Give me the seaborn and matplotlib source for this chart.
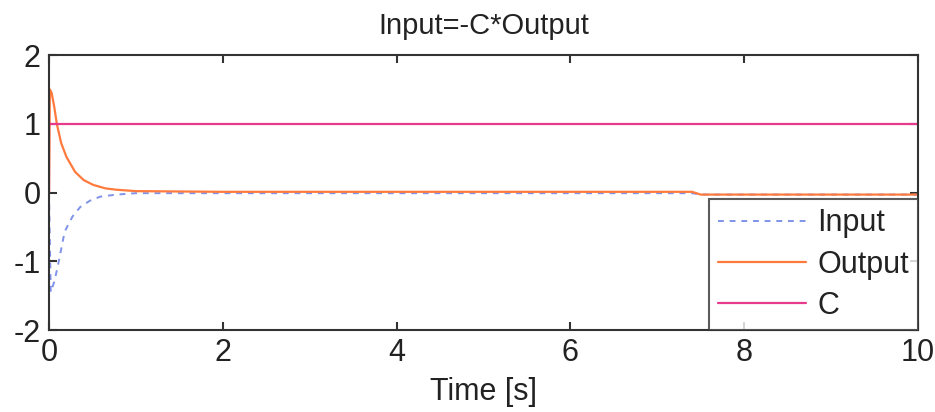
import matplotlib
matplotlib.use("Agg")
import matplotlib.pyplot as plt
import seaborn as sns

# --- data ---
t_input = [0.0, 0.02, 0.06, 0.10, 0.18, 0.27, 0.36, 0.47, 0.59, 0.78, 1.0, 2.0, 4.0, 6.0, 7.4, 7.5, 10.0]
y_input = [0.0, -1.45, -1.30, -1.08, -0.57, -0.35, -0.21, -0.12, -0.06, -0.03, -0.01, -0.01, -0.01, -0.01, -0.01, -0.03, -0.03]

t_output = [0.0, 0.01, 0.03, 0.06, 0.09, 0.14, 0.20, 0.30, 0.40, 0.51, 0.65, 0.78, 1.0, 2.0, 4.0, 6.0, 7.4, 7.5, 10.0]
y_output = [0.0, 1.50, 1.45, 1.25, 1.00, 0.72, 0.52, 0.30, 0.18, 0.11, 0.06, 0.04, 0.02, 0.01, 0.01, 0.01, 0.01, -0.03, -0.03]

t_c = [0.0, 0.0, 10.0]
y_c = [0.0, 1.0, 1.0]

xticks = [0, 2, 4, 6, 8, 10]
yticks = [-2, -1, 0, 1, 2]

sns.set_theme(style="white")
plt.rcParams['font.family'] = ['Liberation Sans Narrow', 'Liberation Sans', 'DejaVu Sans']

fig = plt.figure(figsize=(9.35, 4.12), dpi=100)
ax = fig.add_axes([0.0524, 0.199, 0.9294, 0.6675])

sns.lineplot(x=t_input, y=y_input, ax=ax, color="#7f93e8", linestyle=(0, (3, 3)),
             linewidth=1.4, label="Input", sort=False, estimator=None)
sns.lineplot(x=t_output, y=y_output, ax=ax, color="#ff7a3d", linewidth=1.6,
             label="Output", sort=False, estimator=None)
sns.lineplot(x=t_c, y=y_c, ax=ax, color="#e83a8c", linewidth=1.6,
             label="C", sort=False, estimator=None)

ax.set_xlim(0, 10)
ax.set_ylim(-2, 2)
ax.set_xticks(xticks)
ax.set_yticks(yticks)
ax.set_xticklabels([str(v) for v in xticks])
ax.set_yticklabels([str(v) for v in yticks])

for s in ax.spines.values():
    s.set_color("#333333")
    s.set_linewidth(1.5)

ax.tick_params(direction="in", length=6, width=1.5, color="#333333",
               top=True, right=True, bottom=True, left=True,
               labelsize=22, labelcolor="#222222", pad=6)

ax.set_title("Input=-C*Output", fontsize=21, color="#222222", pad=15)
ax.set_xlabel("Time [s]", fontsize=22, color="#222222", labelpad=6)
ax.set_ylabel("")

leg = ax.legend(loc="lower right", fontsize=22, frameon=True, fancybox=False,
                edgecolor="#333333", handlelength=2.9, borderaxespad=0,
                labelspacing=0.37, borderpad=0.3, handletextpad=0.35)
leg.get_frame().set_linewidth(1.5)
for txt in leg.get_texts():
    txt.set_color("#222222")

fig.savefig("out.png", dpi=100, facecolor="white")
